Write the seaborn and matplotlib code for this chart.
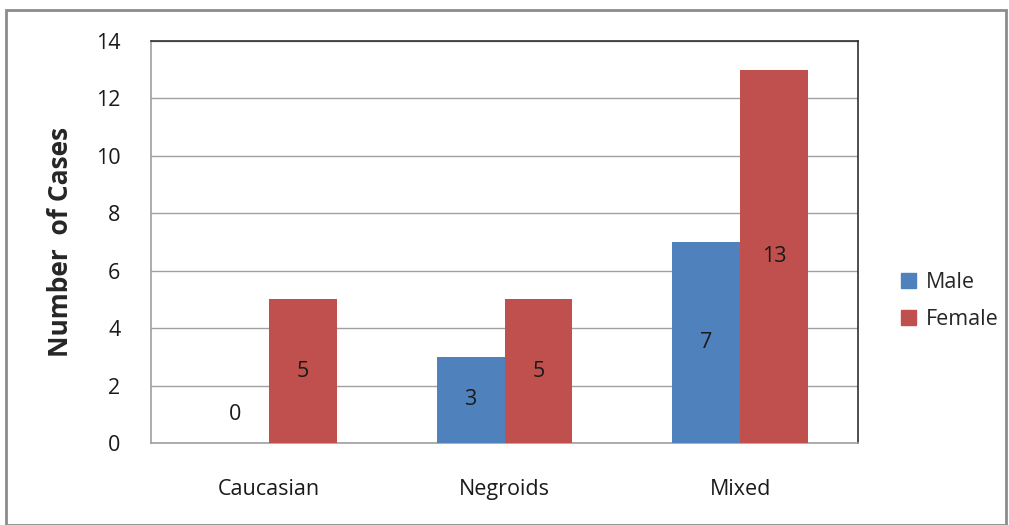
import matplotlib
matplotlib.use("Agg")
import matplotlib.pyplot as plt
import seaborn as sns
import pandas as pd
from matplotlib.patches import Rectangle

# Case counts by ethnic group and sex
groups = ["Caucasian", "Negroids", "Mixed"]
male = [0, 3, 7]
female = [5, 5, 13]
sexes = ["Male", "Female"]
colors = {"Male": "#4F81BD", "Female": "#C0504D"}

df = pd.DataFrame({
    "group": groups * 2,
    "sex": ["Male"] * len(groups) + ["Female"] * len(groups),
    "cases": male + female,
})

sns.set_theme(style="white")
plt.rcParams["font.family"] = ["Open Sans", "DejaVu Sans"]

fig = plt.figure(figsize=(10.09, 5.25), dpi=100)
ax = fig.add_axes([151 / 1009, 1 - 443 / 525, 707 / 1009, 402 / 525])

sns.barplot(data=df, x="group", y="cases", hue="sex", hue_order=sexes,
            order=groups, palette=colors, width=0.577, saturation=1,
            edgecolor="none", linewidth=0, ax=ax, legend=False, zorder=3)

ax.set_ylim(0, 14)
ax.set_yticks(range(0, 15, 2))
ax.yaxis.grid(True, color="#A0A0A0", linewidth=1, zorder=0)
ax.set_axisbelow(True)
for side in ["left", "bottom"]:
    ax.spines[side].set_color("#A0A0A0")
    ax.spines[side].set_linewidth(1.2)
for side in ["top", "right"]:
    ax.spines[side].set_color("#303030")
    ax.spines[side].set_linewidth(1.2)

ax.tick_params(axis="y", labelsize=15.5, pad=22, length=0, colors="#1a1a1a")
ax.tick_params(axis="x", labelsize=15.5, pad=26, length=0, colors="#1a1a1a")
ax.set_xlabel("")
ax.set_ylabel("Number  of Cases", fontsize=19, fontweight="bold", labelpad=16)

# Value labels in the middle of each bar
for container, vals in zip(ax.containers, [male, female]):
    for bar, v in zip(container, vals):
        x = bar.get_x() + bar.get_width() / 2
        y = v / 2 if v > 0 else 1.0
        ax.text(x, y, f"{v}", ha="center", va="center", fontsize=15.5,
                color="#1a1a1a", zorder=4)

# Legend
handles = [Rectangle((0, 0), 1, 1, color=colors[s]) for s in sexes]
fig.legend(handles, sexes, loc="center left", bbox_to_anchor=(882 / 1009, 1 - 301 / 525),
           frameon=False, fontsize=15.5, handlelength=0.7, handleheight=0.7,
           handletextpad=0.45, labelspacing=0.75)

# Outer chart border
fig.add_artist(Rectangle((6 / 1009, 0), 1000 / 1009, 1 - 10 / 525,
                         transform=fig.transFigure, fill=False,
                         edgecolor="#8C8C8C", linewidth=2))

fig.savefig("out.png", dpi=100)
